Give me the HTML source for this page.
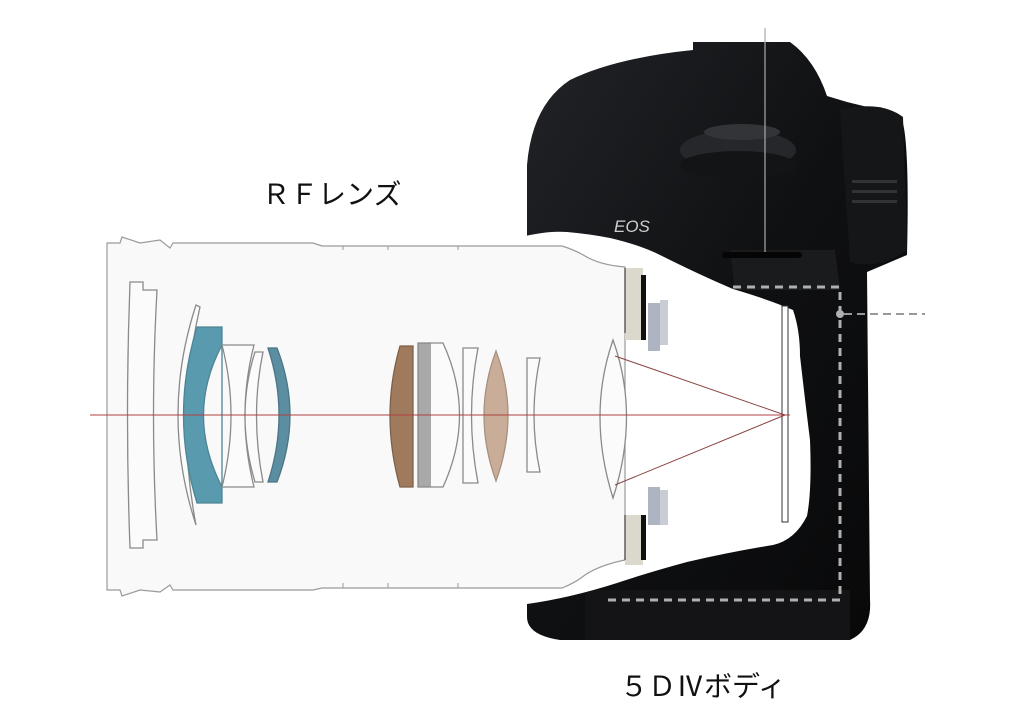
<!DOCTYPE html>
<html><head><meta charset="utf-8"><style>
html,body{margin:0;padding:0;background:#fff;}
svg{display:block;}
text{font-family:"Liberation Sans","Noto Sans CJK JP",sans-serif;}
</style></head><body>
<svg width="1014" height="721" viewBox="0 0 1014 721" xmlns="http://www.w3.org/2000/svg">
<defs>
<linearGradient id="cam" x1="0" y1="0" x2="1" y2="1">
<stop offset="0" stop-color="#222327"/><stop offset="0.5" stop-color="#0f1012"/><stop offset="1" stop-color="#080809"/>
</linearGradient>
</defs>
<rect width="1014" height="721" fill="#fff"/>
<path d="M527,240 L527,165 Q532,105 570,80 Q615,58 693,50 L693,42 L790,42 Q815,60 827,96 L847,102 L900,115 Q910,130 907,255 L867,272 L870,600 Q872,630 850,640 L560,640 Q527,635 527,617 Z" fill="url(#cam)"/>
<path d="M730,250 L835,250 L840,290 L735,290 Z" fill="#1a1b1d"/>
<path d="M585,590 L850,590 L850,640 L585,640 Z" fill="#141416"/>
<ellipse cx="738" cy="150" rx="58" ry="20" fill="#26272a"/>
<ellipse cx="738" cy="165" rx="58" ry="14" fill="#131415"/>
<ellipse cx="742" cy="132" rx="38" ry="8" fill="#333438"/>
<path d="M840,110 Q880,100 903,117 L907,250 Q880,270 850,262 Z" fill="#151618"/>
<rect x="852" y="180" width="45" height="3" fill="#333337"/>
<rect x="852" y="190" width="45" height="3" fill="#333337"/>
<rect x="852" y="200" width="45" height="3" fill="#333337"/>
<text x="614" y="232" fill="#cfcfcf" font-size="17" font-style="italic">EOS</text>
<rect x="722" y="252" width="80" height="6" rx="3" fill="#050505"/>
<path d="M500,243 Q540,230 567,232 Q590,234 610,238 Q640,245 660,255 Q700,275 733,289 Q770,300 793,310 Q800,330 800,356 Q805,400 810,440 Q812,490 807,516 Q795,540 773,545 Q730,552 687,562 Q650,572 617,583 Q570,598 527,604 L500,610 Z" fill="#fff"/>
<path d="M107,243 L120,243 L122,237 L140,243 L160,240 L170,248 L173,243 L313,243 L322,246 L562,246 Q575,250 585,256 Q600,265 625,267 L625,560 Q600,565 585,575 Q575,583 562,588 L322,588 L313,590 L173,590 L170,585 L160,592 L140,590 L122,596 L120,590 L107,590 Z" fill="#f9f9f9" stroke="#9a9a9a" stroke-width="1.2"/>
<line x1="343" y1="246" x2="343" y2="250" stroke="#999"/><line x1="388" y1="246" x2="388" y2="250" stroke="#999"/><line x1="458" y1="246" x2="458" y2="250" stroke="#999"/>
<line x1="343" y1="588" x2="343" y2="583" stroke="#999"/><line x1="388" y1="588" x2="388" y2="583" stroke="#999"/><line x1="458" y1="588" x2="458" y2="583" stroke="#999"/>
<g stroke="#8a8a8a" stroke-width="1.3" fill="none">
<path d="M130,282 L143,282 L143,290 L157,290 Q150,415 157,540 L143,540 L143,548 L130,548 Q125,415 130,282 Z" fill="#fbfbfb"/>
<path d="M196,305 Q160,415 196,525 Q175,415 200,307 Z" fill="#fbfbfb"/>
<path d="M197,327 L222,327 L222,503 L197,503 Q170,415 197,327 Z M222,345 Q185,415 222,487 Z" fill="#5a9aae" stroke="#4d8496" fill-rule="evenodd"/>
<path d="M222,345 L254,345 Q236,415 254,487 L222,487 Q240,415 222,345 Z" fill="#fbfbfb"/>
<path d="M255,352 L263,352 Q250,415 263,482 L255,482 Q235,415 255,352 Z" fill="#fbfbfb"/>
<path d="M268,348 L277,348 Q303,415 277,482 L268,482 Q290,415 268,348 Z" fill="#5b8ea0" stroke="#4b7686"/>
<path d="M400,346 L413,346 L413,487 L400,487 Q380,415 400,346 Z" fill="#a07a5c" stroke="#7e6048"/>
<path d="M418,343 L431,343 Q468,415 431,487 L418,487 Z" fill="#a9a9a9" stroke="#888"/>
<path d="M431,343 L443,343 Q476,415 443,487 L431,487" fill="#fbfbfb"/>
<path d="M463,348 L478,348 Q465,415 478,483 L463,483 Z" fill="#fbfbfb"/>
<path d="M496,351 Q520,415 496,481 Q472,415 496,351 Z" fill="#c9ad98" stroke="#a89080"/>
<path d="M527,358 L540,358 Q528,415 540,472 L527,472 Z" fill="#fbfbfb"/>
<path d="M613,340 Q640,415 613,498 Q587,415 613,340 Z" fill="#fbfbfb"/>
</g>
<rect x="625" y="268" width="18" height="72" fill="#dcd8cc"/>
<rect x="641" y="275" width="5" height="65" fill="#111"/>
<rect x="648" y="303" width="12" height="48" fill="#aeb4c2"/>
<rect x="660" y="300" width="8" height="45" fill="#c8ccd4"/>
<rect x="625" y="515" width="18" height="50" fill="#dcd8cc"/>
<rect x="641" y="515" width="5" height="45" fill="#111"/>
<rect x="648" y="487" width="12" height="38" fill="#aeb4c2"/>
<rect x="660" y="490" width="8" height="35" fill="#c8ccd4"/>
<line x1="625" y1="268" x2="625" y2="333" stroke="#222" stroke-width="1"/>
<line x1="625" y1="515" x2="625" y2="560" stroke="#222" stroke-width="1"/>
<rect x="782" y="306" width="6" height="216" fill="#fff" stroke="#333" stroke-width="1"/>
<line x1="90" y1="415" x2="790" y2="415" stroke="#b04040" stroke-width="1"/>
<line x1="615" y1="356" x2="785" y2="415" stroke="#8a4444" stroke-width="1"/>
<line x1="615" y1="485" x2="785" y2="415" stroke="#8a4444" stroke-width="1"/>
<line x1="765" y1="28" x2="765" y2="252" stroke="#aaa" stroke-width="1.2"/>
<path d="M733,287 L840,287 L840,600 L607,600" fill="none" stroke="#b0b0b0" stroke-width="3" stroke-dasharray="8,6"/>
<circle cx="840" cy="314" r="4" fill="#b0b0b0"/>
<line x1="844" y1="314" x2="925" y2="314" stroke="#999" stroke-width="2" stroke-dasharray="8,5"/>
<text x="262" y="204" font-size="28" fill="#111">ＲＦレンズ</text>
<text x="620" y="696" font-size="28" fill="#111">５ＤⅣボディ</text>
</svg>
</body></html>
